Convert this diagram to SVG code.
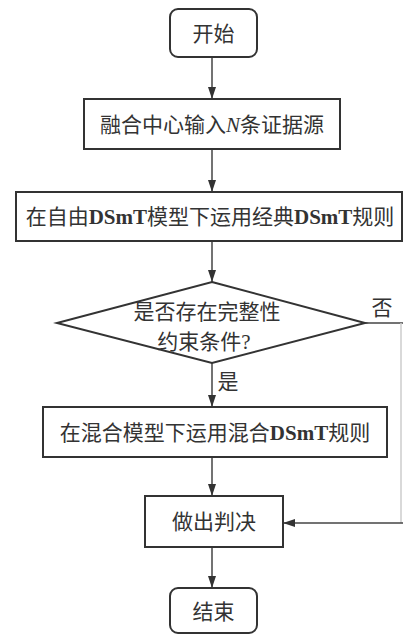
<svg xmlns="http://www.w3.org/2000/svg" width="403" height="635" viewBox="0 0 403 635">
<style>
.box{fill:#fff;stroke:#333;stroke-width:2}
.t{font-family:"Liberation Serif","Noto Sans CJK SC",serif;font-size:21px;fill:#333;text-anchor:middle;dominant-baseline:central}
.b{font-weight:bold}
.c{fill:none;stroke:#444;stroke-width:1.5}
</style>
<defs>
<marker id="ah" markerWidth="12" markerHeight="8" refX="12" refY="4" orient="auto" markerUnits="userSpaceOnUse">
<path d="M0,0 L12,4 L0,8 Z" fill="#333"/>
</marker>
</defs>
<rect width="403" height="635" fill="#fff"/>
<g id="connectors">
<line class="c" x1="212" y1="57" x2="212" y2="99" marker-end="url(#ah)"/>
<line class="c" x1="212" y1="149" x2="212" y2="192" marker-end="url(#ah)"/>
<line class="c" x1="212" y1="241" x2="212" y2="282" marker-end="url(#ah)"/>
<line class="c" x1="212" y1="363" x2="212" y2="407" marker-end="url(#ah)"/>
<line class="c" x1="212" y1="457" x2="212" y2="496" marker-end="url(#ah)"/>
<line class="c" x1="212" y1="547" x2="212" y2="588" marker-end="url(#ah)"/>
<line class="c" x1="365" y1="323" x2="403" y2="323"/>
<line x1="401" y1="323" x2="401" y2="523" stroke="#ccc" stroke-width="1.5"/>
<line class="c" x1="403" y1="523" x2="283" y2="523" marker-end="url(#ah)"/>
<text class="t" x="382" y="308">否</text>
<text class="t" x="228" y="382">是</text>
</g>
<g id="start">
<rect class="box" x="170" y="9" width="87" height="48" rx="8"/>
<text class="t" x="213.5" y="34">开始</text>
</g>
<g id="input">
<rect class="box" x="84" y="99" width="256" height="50"/>
<text class="t" x="212" y="125">融合中心输入<tspan font-style="italic">N</tspan>条证据源</text>
</g>
<g id="classic">
<rect class="box" x="16" y="192" width="386" height="49"/>
<text class="t" x="210" y="217">在自由<tspan class="b">DSmT</tspan>模型下运用经典<tspan class="b">DSmT</tspan>规则</text>
</g>
<g id="decision">
<polygon class="box" points="212,282 365,323 212,363 57,323"/>
<text class="t" x="207" y="312">是否存在完整性</text>
<text class="t" x="204" y="342">约束条件?</text>
</g>
<g id="hybrid">
<rect class="box" x="43" y="407" width="344" height="50"/>
<text class="t" x="215" y="433">在混合模型下运用混合<tspan class="b">DSmT</tspan>规则</text>
</g>
<g id="judge">
<rect class="box" x="145" y="496" width="138" height="51"/>
<text class="t" x="214" y="522">做出判决</text>
</g>
<g id="end">
<rect class="box" x="170" y="588" width="87" height="45" rx="8"/>
<text class="t" x="213.5" y="612">结束</text>
</g>
</svg>
